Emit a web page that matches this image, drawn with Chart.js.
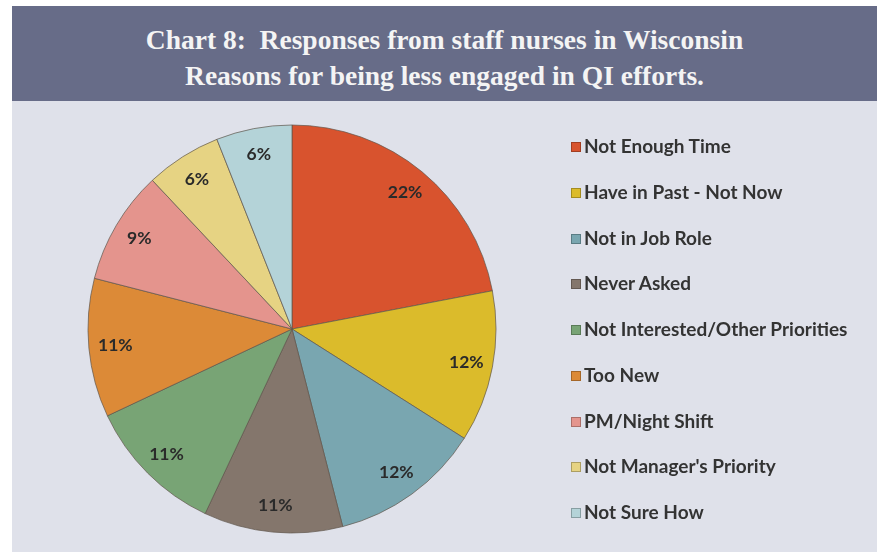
<!DOCTYPE html>
<html>
<head>
<meta charset="utf-8">
<script src="https://cdn.jsdelivr.net/npm/chart.js@4/dist/chart.umd.min.js"></script>
<style>
  body { margin: 0; background: #fff; width: 877px; height: 552px; position: relative; overflow: hidden; }
  #banner {
    position: absolute; left: 12px; top: 6px; width: 865px; height: 95px;
    background: #676c88; color: #f4f4f4;
    font-family: "Liberation Serif", serif; font-weight: bold; font-size: 27.5px;
    text-align: center; line-height: 36px; padding-top: 16px; box-sizing: border-box;
  }
  #wrap { position: absolute; left: 12px; top: 101px; width: 865px; height: 451px; background: #dfe1ea; }
  #chartCanvas { position: absolute; left: 0; top: 0; }
  #legend { position: absolute; left: 0; top: 0; }
  .item { position: absolute; left: 559px; height: 24px; white-space: nowrap;
    font-family: Lato, sans-serif; font-weight: bold; font-size: 19px; color: #333; line-height: 24px; }
  .item span.sw { display: inline-block; width: 10px; height: 10px; margin-right: 3px; vertical-align: 1px;
    box-sizing: border-box; border: 1px solid rgba(0,0,0,0.25); }
</style>
</head>
<body>
<div id="banner">Chart 8:&nbsp; Responses from staff nurses in Wisconsin<br>Reasons for being less engaged in QI efforts.</div>
<div id="wrap"><canvas id="chartCanvas" width="865" height="451"></canvas><div id="legend"></div></div>
<script>
const reasons = ['Not Enough Time', 'Have in Past - Not Now', 'Not in Job Role', 'Never Asked',
  'Not Interested/Other Priorities', 'Too New', 'PM/Night Shift', "Not Manager's Priority", 'Not Sure How'];
const percents = [22, 12, 12, 11, 11, 11, 9, 6, 6];
const sliceColors = ['#d8532e', '#dbbb2b', '#79a6b0', '#84766c', '#78a475', '#dc8a37', '#e4948d', '#e6d383', '#b4d3d8'];

function shade(hex, f) {
  const n = parseInt(hex.slice(1), 16);
  const r = Math.round(((n >> 16) & 255) * f), g = Math.round(((n >> 8) & 255) * f), b = Math.round((n & 255) * f);
  return `rgb(${r},${g},${b})`;
}

// radial shading so slices darken a bit at the rim
function sliceFill(ctx) {
  const chart = ctx.chart;
  const arc = chart.getDatasetMeta(0).data[ctx.dataIndex];
  const base = sliceColors[ctx.dataIndex];
  if (!arc || !arc.outerRadius) return base;
  const g = chart.ctx.createRadialGradient(arc.x, arc.y, 0, arc.x, arc.y, arc.outerRadius);
  g.addColorStop(0, base);
  g.addColorStop(0.88, base);
  g.addColorStop(1, shade(base, 0.8));
  return g;
}

const pctLabels = {
  id: 'pctLabels',
  afterDatasetsDraw(chart) {
    const ctx = chart.ctx;
    const meta = chart.getDatasetMeta(0);
    ctx.save();
    ctx.font = 'bold 17.5px Lato, sans-serif';
    ctx.fillStyle = '#2a2a2a';
    ctx.textAlign = 'center';
    ctx.textBaseline = 'middle';
    meta.data.forEach((arc, i) => {
      const mid = (arc.startAngle + arc.endAngle) / 2;
      const r = arc.outerRadius * 0.87;
      ctx.fillText(percents[i] + '%', arc.x + Math.cos(mid) * r, arc.y + Math.sin(mid) * r);
    });
    ctx.restore();
  }
};

new Chart(document.getElementById('chartCanvas'), {
  type: 'pie',
  data: {
    labels: reasons,
    datasets: [{
      data: percents,
      backgroundColor: sliceFill,
      borderColor: 'rgba(95,85,75,0.7)',
      borderWidth: 1,
      radius: 204
    }]
  },
  options: {
    responsive: false,
    animation: false,
    layout: { padding: { left: 0, right: 305, top: 5, bottom: 0 } },
    plugins: {
      tooltip: { enabled: false },
      legend: { display: false }
    }
  },
  plugins: [pctLabels]
});

// legend on the right, built from the same arrays
const legend = document.getElementById('legend');
reasons.forEach((r, i) => {
  const div = document.createElement('div');
  div.className = 'item';
  div.style.top = (33 + i * 45.75) + 'px';
  const sw = document.createElement('span');
  sw.className = 'sw';
  sw.style.background = sliceColors[i];
  div.appendChild(sw);
  div.appendChild(document.createTextNode(r));
  legend.appendChild(div);
});
</script>
</body>
</html>
